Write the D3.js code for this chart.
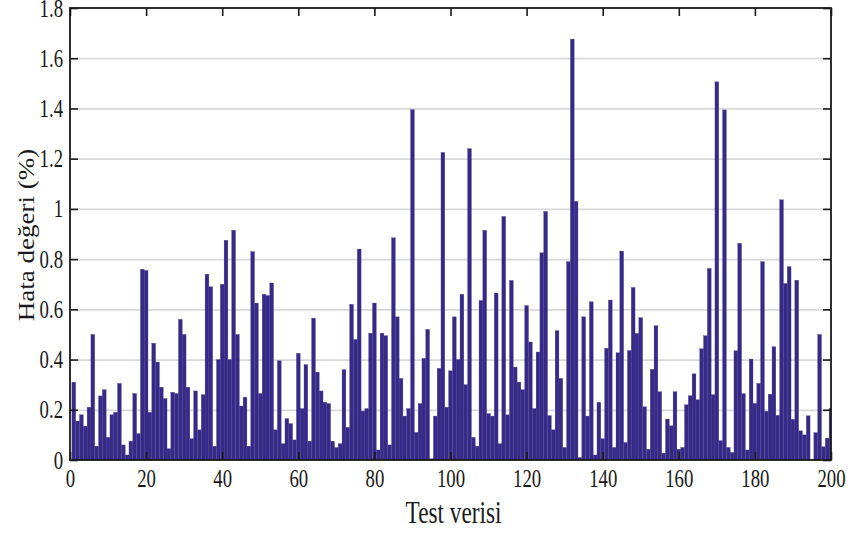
<!DOCTYPE html>
<html lang="tr">
<head>
    <meta charset="UTF-8">
    <title>Hata değeri</title>
    <style>
        body { margin: 0; background: #fff; }
        .tick text { font-family: "Liberation Serif", serif; fill: #1a1a1a; }
        .grid line { stroke: #d9d9d9; stroke-width: 1.8; }
        .grid path { display: none; }
        .axis-label { font-family: "Liberation Serif", serif; fill: #1a1a1a; }
    </style>
</head>
<body>
    <svg width="850" height="533"></svg>

    <script src="https://d3js.org/d3.v7.min.js"></script>
    <script>

        // Error value (%) of every test sample (samples 1..200)
        const errorValues = [
            0.31, 0.155, 0.18, 0.135, 0.21, 0.50, 0.055, 0.255, 0.28, 0.09,
            0.18, 0.19, 0.305, 0.06, 0.02, 0.075, 0.265, 0.105, 0.76, 0.755,
            0.19, 0.465, 0.39, 0.29, 0.245, 0.045, 0.27, 0.265, 0.56, 0.50,
            0.29, 0.085, 0.275, 0.12, 0.26, 0.74, 0.69, 0.055, 0.40, 0.70,
            0.875, 0.40, 0.915, 0.50, 0.215, 0.25, 0.055, 0.83, 0.625, 0.265,
            0.66, 0.655, 0.705, 0.12, 0.395, 0.065, 0.165, 0.145, 0.08, 0.425,
            0.205, 0.38, 0.075, 0.565, 0.35, 0.275, 0.23, 0.225, 0.075, 0.05,
            0.065, 0.36, 0.13, 0.62, 0.48, 0.84, 0.195, 0.205, 0.505, 0.625,
            0.04, 0.505, 0.495, 0.06, 0.885, 0.57, 0.325, 0.175, 0.205, 1.395,
            0.11, 0.225, 0.405, 0.52, 0.005, 0.175, 0.365, 1.225, 0.21, 0.355,
            0.57, 0.40, 0.66, 0.30, 1.24, 0.09, 0.055, 0.635, 0.915, 0.185,
            0.175, 0.665, 0.065, 0.97, 0.18, 0.715, 0.37, 0.31, 0.28, 0.615,
            0.47, 0.205, 0.43, 0.825, 0.99, 0.177, 0.12, 0.515, 0.325, 0.05,
            0.79, 1.676, 1.03, 0.01, 0.57, 0.175, 0.63, 0.02, 0.23, 0.085,
            0.445, 0.637, 0.05, 0.427, 0.832, 0.07, 0.436, 0.687, 0.504, 0.567,
            0.212, 0.043, 0.361, 0.535, 0.272, 0.027, 0.163, 0.136, 0.272, 0.043,
            0.05, 0.22, 0.256, 0.343, 0.24, 0.443, 0.495, 0.763, 0.26, 1.506,
            0.077, 1.394, 0.05, 0.03, 0.435, 0.863, 0.264, 0.04, 0.402, 0.225,
            0.305, 0.79, 0.194, 0.262, 0.451, 0.178, 1.036, 0.703, 0.77, 0.162,
            0.716, 0.116, 0.10, 0.176, 0.003, 0.109, 0.50, 0.053, 0.087, 0.206
        ];

        const xTickValues = [0, 20, 40, 60, 80, 100, 120, 140, 160, 180, 200];
        const yTickValues = [0, 0.2, 0.4, 0.6, 0.8, 1, 1.2, 1.4, 1.6, 1.8];

        const xLabel = 'Test verisi';
        const yLabel = 'Hata değeri (%)';

        const data = errorValues.map(function (v, i) {
            return { sample: i + 1, value: v };
        });

        const margin = { left: 70, right: 19, top: 8, bottom: 73 };
        // the original figure is horizontally squeezed, so text is too
        const squeeze = 0.75;

        const svg = d3.select('svg');
        const width = +svg.attr('width');
        const height = +svg.attr('height');
        const innerWidth = width - margin.left - margin.right;
        const innerHeight = height - margin.top - margin.bottom;

        const xScale = d3.scaleLinear().domain([0, 200]).range([0, innerWidth]);
        const yScale = d3.scaleLinear().domain([0, 1.8]).range([innerHeight, 0]);

        const group = svg.append('g')
            .attr('transform', 'translate(' + margin.left + ' ' + margin.top + ')');

        svg.append('defs').append('clipPath').attr('id', 'plot-clip')
            .append('rect')
            .attr('width', innerWidth)
            .attr('height', innerHeight);

        // grid lines behind the bars
        group.append('g')
            .attr('class', 'grid')
            .call(d3.axisLeft(yScale)
                .tickValues(yTickValues.filter(function (d) { return d > 0 && d < 1.8; }))
                .tickSize(-innerWidth)
                .tickFormat(''));

        // bars, one per test sample, one unit wide
        group.append('g')
            .attr('clip-path', 'url(#plot-clip)')
            .selectAll('rect')
            .data(data)
            .enter()
            .append('rect')
            .attr('x', function (d) { return xScale(d.sample - 0.5); })
            .attr('width', function (d) { return xScale(d.sample + 0.5) - xScale(d.sample - 0.5); })
            .attr('y', function (d) { return yScale(d.value); })
            .attr('height', function (d) { return innerHeight - yScale(d.value); })
            .attr('fill', '#372a86')
            .attr('stroke', '#4a3f95')
            .attr('stroke-width', 0.3);

        // axes with inward ticks, drawn on top
        const tickLen = 8;

        const yAxisG = group.append('g')
            .call(d3.axisLeft(yScale)
                .tickValues(yTickValues)
                .tickFormat(d3.format('~g'))
                .tickSizeInner(-tickLen)
                .tickSizeOuter(0)
                .tickPadding(7 / squeeze));

        const yAxisRightG = group.append('g')
            .attr('transform', 'translate(' + innerWidth + ' 0)')
            .call(d3.axisRight(yScale)
                .tickValues(yTickValues)
                .tickFormat('')
                .tickSizeInner(-tickLen)
                .tickSizeOuter(0));

        const xAxisG = group.append('g')
            .attr('transform', 'translate(0 ' + innerHeight + ')')
            .call(d3.axisBottom(xScale)
                .tickValues(xTickValues)
                .tickFormat(d3.format('d'))
                .tickSizeInner(-tickLen)
                .tickSizeOuter(0)
                .tickPadding(9));

        const xAxisTopG = group.append('g')
            .call(d3.axisTop(xScale)
                .tickValues(xTickValues)
                .tickFormat('')
                .tickSizeInner(-tickLen)
                .tickSizeOuter(0));

        [yAxisG, yAxisRightG, xAxisG, xAxisTopG].forEach(function (g) {
            g.select('.domain').remove();
            g.selectAll('.tick line').attr('stroke', '#1a1a1a').attr('stroke-width', 1.6);
        });

        yAxisG.selectAll('.tick text')
            .style('font-size', '25px')
            .attr('transform', 'scale(' + squeeze + ' 1)');

        xAxisG.selectAll('.tick text')
            .style('font-size', '25px')
            .attr('transform', 'scale(' + squeeze + ' 1)');

        // axes box
        group.append('rect')
            .attr('width', innerWidth)
            .attr('height', innerHeight)
            .attr('fill', 'none')
            .attr('stroke', '#1a1a1a')
            .attr('stroke-width', 1.8);

        svg.append('text')
            .attr('class', 'axis-label')
            .attr('transform', 'translate(' + (margin.left + innerWidth / 2 + 3) + ' 523) scale(' + squeeze + ' 1)')
            .style('font-size', '31px')
            .style('text-anchor', 'middle')
            .text(xLabel);

        // rotated label: the squeeze acts on the glyph height here
        svg.append('text')
            .attr('class', 'axis-label')
            .attr('transform', 'translate(34 235) scale(0.85 1) rotate(-90)')
            .style('font-size', '27px')
            .style('text-anchor', 'middle')
            .text(yLabel);

    </script>
</body>
</html>
